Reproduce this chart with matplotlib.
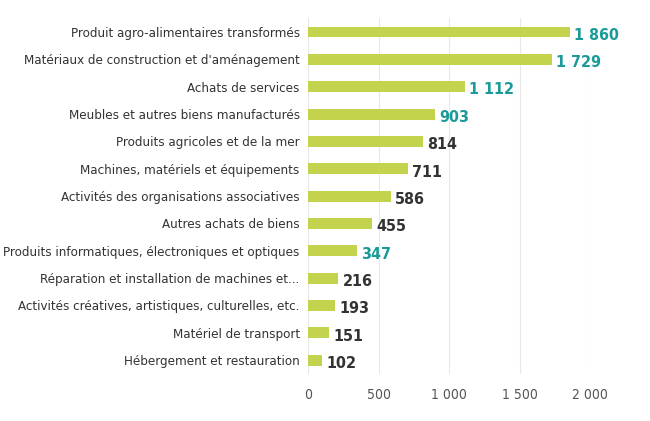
import matplotlib.pyplot as plt
import matplotlib.ticker as mticker

categories = [
    "Produit agro-alimentaires transformés",
    "Matériaux de construction et d'aménagement",
    "Achats de services",
    "Meubles et autres biens manufacturés",
    "Produits agricoles et de la mer",
    "Machines, matériels et équipements",
    "Activités des organisations associatives",
    "Autres achats de biens",
    "Produits informatiques, électroniques et optiques",
    "Réparation et installation de machines et...",
    "Activités créatives, artistiques, culturelles, etc.",
    "Matériel de transport",
    "Hébergement et restauration",
]
values = [1860, 1729, 1112, 903, 814, 711, 586, 455, 347, 216, 193, 151, 102]
highlight = [True, True, True, True, False, False, False, False, True, False, False, False, False]

BAR = "#c3d34e"
TEAL = "#1b9a9a"
DARK = "#333333"

plt.rcParams['font.family'] = ['DejaVu Sans']
plt.rcParams['font.stretch'] = 'condensed'


def fmt(v):
    return f"{v:,}".replace(",", " ")


fig = plt.figure(figsize=(6.5, 4.21), dpi=100)
ax = fig.add_axes([308 / 650, 0.112, (590 - 308) / 650, 0.9565 - 0.112])

ypos = list(range(len(categories)))[::-1]
ax.barh(ypos, values, height=0.4, color=BAR, zorder=3)

for y, v, h in zip(ypos, values, highlight):
    ax.text(v + 28, y - 0.12, fmt(v), va="center", ha="left", fontsize=11.5,
            fontweight="bold", color=TEAL if h else DARK, clip_on=False)

ax.set_xlim(0, 2000)
ax.set_ylim(-0.5, 12.5)
ax.set_yticks(ypos)
ax.set_yticklabels(categories, fontsize=9.5, color="#333333")
ax.set_xticks([0, 500, 1000, 1500, 2000])
ax.xaxis.set_major_formatter(mticker.FuncFormatter(lambda v, p: fmt(int(v))))
ax.tick_params(axis="x", labelsize=10, colors="#555555", length=0, pad=10)
ax.tick_params(axis="y", length=0, pad=6)
ax.grid(axis="x", color="#e8e8e8", linewidth=0.8, zorder=0)
for s in ax.spines.values():
    s.set_visible(False)

fig.savefig("out.png", dpi=100, facecolor="white")
